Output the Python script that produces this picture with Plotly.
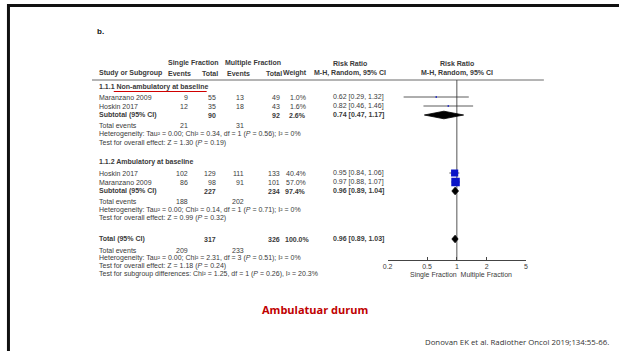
import math
import plotly.graph_objects as go

# ---- data -------------------------------------------------------------
# Subgroup 1.1.1 Non-ambulatory at baseline
g1_study = ["Maranzano 2009", "Hoskin 2017"]
g1_sf_events = [9, 12]
g1_sf_total = [55, 35]
g1_mf_events = [13, 18]
g1_mf_total = [49, 43]
g1_weight = [1.0, 1.6]
g1_rr = [0.62, 0.82]
g1_lo = [0.29, 0.46]
g1_hi = [1.32, 1.46]
g1_sub = dict(sf_total=90, mf_total=92, weight=2.6, rr=0.74, lo=0.47, hi=1.17,
              sf_events=21, mf_events=31, chi2=0.34, df=1, p_het=0.56, i2="0%",
              z=1.30, p=0.19)

# Subgroup 1.1.2 Ambulatory at baseline
g2_study = ["Hoskin 2017", "Maranzano 2009"]
g2_sf_events = [102, 86]
g2_sf_total = [129, 98]
g2_mf_events = [111, 91]
g2_mf_total = [133, 101]
g2_weight = [40.4, 57.0]
g2_rr = [0.95, 0.97]
g2_lo = [0.84, 0.88]
g2_hi = [1.06, 1.07]
g2_sub = dict(sf_total=227, mf_total=234, weight=97.4, rr=0.96, lo=0.89, hi=1.04,
              sf_events=188, mf_events=202, chi2=0.14, df=1, p_het=0.71, i2="0%",
              z=0.99, p=0.32)

# Overall
tot = dict(sf_total=317, mf_total=326, weight=100.0, rr=0.96, lo=0.89, hi=1.03,
           sf_events=209, mf_events=233, chi2=2.31, df=3, p_het=0.51, i2="0%",
           z=1.18, p=0.24)
subgroup_test = dict(chi2=1.25, df=1, p=0.26, i2="20.3%")

tick_vals = [0.2, 0.5, 1, 2, 5]
tick_text = ["0.2", "0.5", "1", "2", "5"]

# ---- layout constants (pixel grid of the page) -------------------------
W, H = 621, 351
FONT = "Liberation Sans"
FS = 7
TXT = "#3a3a3a"
X_STUDY = 93
X_SFE, X_SFT, X_MFE, X_MFT, X_W = 187, 215, 244, 280, 306
X_RR = 330
X_RR_HDR = 349
AX_LEFT, AX_RIGHT = 387, 527
AX_Y = 260

rows1 = dict(head=87, studies=[97, 106], sub=115, ev=125, het=134, oe=143)
rows2 = dict(head=162, studies=[173, 182], sub=191, ev=201, het=210, oe=218)
rows_t = dict(sub=239, ev=250, het=258, oe=266, sg=274)

fig = go.Figure()
ann = []


def text(x, y, s, anchor="left", bold=False, size=FS, color=TXT, family=FONT):
    if bold:
        s = "<b>" + s + "</b>"
    ann.append(dict(x=x, y=y, xref="x", yref="y", text=s, showarrow=False,
                    xanchor=anchor, yanchor="middle",
                    font=dict(family=family, size=size, color=color)))


def fmt_rr(r, lo, hi):
    return f"{r:.2f} [{lo:.2f}, {hi:.2f}]"


def het_line(d):
    return (f"Heterogeneity: Tau² = 0.00; Chi² = {d['chi2']:.2f}, df = {d['df']} "
            f"(<i>P</i> = {d['p_het']:.2f}); I² = {d['i2']}")


def oe_line(d):
    return f"Test for overall effect: Z = {d['z']:.2f} (<i>P</i> = {d['p']:.2f})"


# headers
text(91, 31, "b.", bold=True, size=8, color="#111111")
hy1, hy2 = 63, 73
text(191, hy1, "Single Fraction", anchor="center", bold=True)
text(251, hy1, "Multiple Fraction", anchor="center", bold=True)
text(X_RR_HDR, hy1, "Risk Ratio", anchor="center", bold=True)
text(457, hy1, "Risk Ratio", anchor="center", bold=True)
text(X_STUDY, hy2, "Study or Subgroup", bold=True)
text(X_SFE + 3, hy2, "Events", anchor="right", bold=True)
text(X_SFT + 2, hy2, "Total", anchor="right", bold=True)
text(X_MFE + 6, hy2, "Events", anchor="right", bold=True)
text(X_MFT + 2, hy2, "Total", anchor="right", bold=True)
text(X_W + 1, hy2, "Weight", anchor="right", bold=True)
text(X_RR_HDR, hy2, "M-H, Random, 95% CI", anchor="center", bold=True)
text(457, hy2, "M-H, Random, 95% CI", anchor="center", bold=True)


def group_block(title, rows, study, sfe, sft, mfe, mft, wt, rr, lo, hi, sub):
    text(X_STUDY, rows["head"], title, bold=True)
    for i, name in enumerate(study):
        y = rows["studies"][i]
        text(X_STUDY, y, name)
        text(X_SFE, y, str(sfe[i]), anchor="right")
        text(X_SFT, y, str(sft[i]), anchor="right")
        text(X_MFE, y, str(mfe[i]), anchor="right")
        text(X_MFT, y, str(mft[i]), anchor="right")
        text(X_W, y, f"{wt[i]:.1f}%", anchor="right")
        text(X_RR, y, fmt_rr(rr[i], lo[i], hi[i]))
    y = rows["sub"]
    text(X_STUDY, y, "Subtotal (95% CI)", bold=True)
    text(X_SFT, y, str(sub["sf_total"]), anchor="right", bold=True)
    text(X_MFT, y, str(sub["mf_total"]), anchor="right", bold=True)
    text(X_W, y, f"{sub['weight']:.1f}%", anchor="right", bold=True)
    text(X_RR, y, fmt_rr(sub["rr"], sub["lo"], sub["hi"]), bold=True)
    text(X_STUDY, rows["ev"], "Total events")
    text(X_SFE, rows["ev"], str(sub["sf_events"]), anchor="right")
    text(X_MFE, rows["ev"], str(sub["mf_events"]), anchor="right")
    text(X_STUDY, rows["het"], het_line(sub))
    text(X_STUDY, rows["oe"], oe_line(sub))


group_block("1.1.1 Non-ambulatory at baseline", rows1, g1_study, g1_sf_events,
            g1_sf_total, g1_mf_events, g1_mf_total, g1_weight, g1_rr, g1_lo,
            g1_hi, g1_sub)
group_block("1.1.2 Ambulatory at baseline", rows2, g2_study, g2_sf_events,
            g2_sf_total, g2_mf_events, g2_mf_total, g2_weight, g2_rr, g2_lo,
            g2_hi, g2_sub)

y = rows_t["sub"]
text(X_STUDY, y, "Total (95% CI)", bold=True)
text(X_SFT, y, str(tot["sf_total"]), anchor="right", bold=True)
text(X_MFT, y, str(tot["mf_total"]), anchor="right", bold=True)
text(X_W + 4, y, f"{tot['weight']:.1f}%", anchor="right", bold=True)
text(X_RR, y, fmt_rr(tot["rr"], tot["lo"], tot["hi"]), bold=True)
text(X_STUDY, rows_t["ev"], "Total events")
text(X_SFE, rows_t["ev"], str(tot["sf_events"]), anchor="right")
text(X_MFE, rows_t["ev"], str(tot["mf_events"]), anchor="right")
text(X_STUDY, rows_t["het"], het_line(tot))
text(X_STUDY, rows_t["oe"], oe_line(tot))
text(X_STUDY, rows_t["sg"],
     f"Test for subgroup differences: Chi² = {subgroup_test['chi2']:.2f}, "
     f"df = {subgroup_test['df']} (<i>P</i> = {subgroup_test['p']:.2f}), "
     f"I² = {subgroup_test['i2']}")

# axis direction labels
text(461, 275, "Single Fraction  Multiple Fraction", anchor="center", size=7)

# slide caption and source
text(314, 309, "Ambulatuar durum", anchor="center", bold=True, size=11,
     color="#c00000", family="Open Sans")
text(613, 342, "Donovan EK et al. Radiother Oncol 2019;134:55-66.", anchor="right",
     size=7.8, color="#333333", family="Open Sans")

# ---- forest plot marks (log x axis, pixel y) ----------------------------
BLUE = "#0a14c8"
LINE = "#333333"

# null line at RR = 1
fig.add_trace(go.Scatter(x=[1, 1], y=[80, AX_Y], xaxis="x2", yaxis="y2",
                         mode="lines", line=dict(color="#555555", width=1),
                         hoverinfo="skip", showlegend=False))


def study_marks(rows, rr, lo, hi, wt):
    for i in range(len(rr)):
        y = rows["studies"][i]
        fig.add_trace(go.Scatter(x=[lo[i], hi[i]], y=[y, y], xaxis="x2", yaxis="y2",
                                 mode="lines", line=dict(color=LINE, width=0.8),
                                 hoverinfo="skip", showlegend=False))
        size = 8.5 * math.sqrt(wt[i] / 57.0)
        fig.add_trace(go.Scatter(x=[rr[i]], y=[y], xaxis="x2", yaxis="y2",
                                 mode="markers",
                                 marker=dict(symbol="square", size=max(size, 1.5),
                                             color=BLUE, line=dict(width=0)),
                                 hoverinfo="skip", showlegend=False))


def diamond(y, d, half=3.8):
    fig.add_trace(go.Scatter(x=[d["lo"], d["rr"], d["hi"], d["rr"], d["lo"]],
                             y=[y, y - half, y, y + half, y],
                             xaxis="x2", yaxis="y2", mode="lines", fill="toself",
                             fillcolor="black", line=dict(color="black", width=0.8),
                             hoverinfo="skip", showlegend=False))


study_marks(rows1, g1_rr, g1_lo, g1_hi, g1_weight)
diamond(rows1["sub"], g1_sub)
study_marks(rows2, g2_rr, g2_lo, g2_hi, g2_weight)
diamond(rows2["sub"], g2_sub)
diamond(rows_t["sub"], tot)

# invisible anchor trace for the page-pixel axes
fig.add_trace(go.Scatter(x=[0, W], y=[0, H], mode="markers",
                         marker=dict(opacity=0), hoverinfo="skip", showlegend=False))

shapes = [
    # header rule
    dict(type="line", xref="x", yref="y", x0=88, x1=545, y0=80, y1=80,
         line=dict(color="#444444", width=0.8)),
    # underline of subgroup title
    dict(type="line", xref="x", yref="y", x0=110, x1=204, y0=91.5, y1=91.5,
         line=dict(color="#d00000", width=1)),
    # slide frame
    dict(type="line", xref="paper", yref="paper", x0=0.005, x1=1, y0=1 - 5.5 / H,
         y1=1 - 5.5 / H, line=dict(color="#111111", width=3)),
    dict(type="line", xref="paper", yref="paper", x0=3.5 / W, x1=3.5 / W, y0=0,
         y1=1 - 4 / H, line=dict(color="#111111", width=3)),
]

fig.update_layout(
    width=W, height=H, margin=dict(l=0, r=0, t=0, b=0),
    paper_bgcolor="white", plot_bgcolor="rgba(0,0,0,0)",
    annotations=ann, shapes=shapes,
    xaxis=dict(range=[0, W], visible=False, domain=[0, 1], fixedrange=True),
    yaxis=dict(range=[H, 0], visible=False, domain=[0, 1], fixedrange=True),
    xaxis2=dict(type="log", range=[math.log10(0.2), math.log10(5)],
                domain=[AX_LEFT / W, AX_RIGHT / W], anchor="y2",
                showline=True, linecolor="#444444", linewidth=1,
                ticks="inside", ticklen=3, tickcolor="#444444", tickwidth=1,
                tickvals=tick_vals, ticktext=tick_text, showgrid=False,
                zeroline=False, tickfont=dict(family=FONT, size=7, color=TXT)),
    yaxis2=dict(range=[AX_Y, 0], domain=[(H - AX_Y) / H, 1], anchor="x2",
                visible=False, fixedrange=True),
    showlegend=False,
)

fig.write_html("out.html")
